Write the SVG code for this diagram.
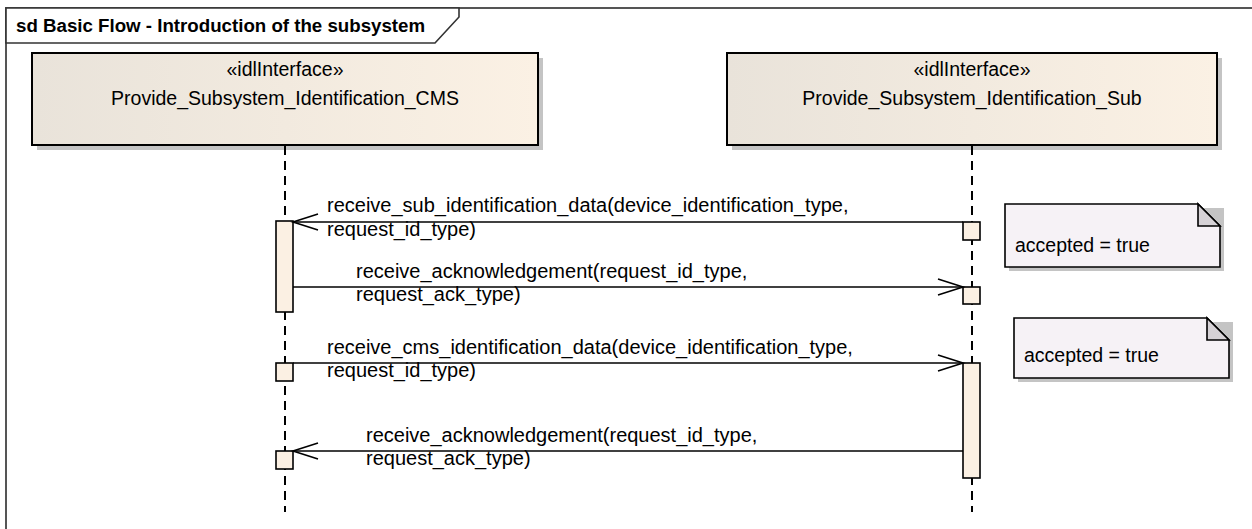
<svg xmlns="http://www.w3.org/2000/svg" width="1252" height="529" viewBox="0 0 1252 529">
  <style>
    text { font-family: "Liberation Sans", Arial, sans-serif; font-size: 19.5px; fill: #000; }
    .title { font-weight: bold; font-size: 18.7px; }
    .lbl { font-size: 20px; }
    .hdr { fill: url(#hdrGrad); stroke: #000; stroke-width: 2; }
    .shadow { fill: #c4c4c4; stroke: none; }
    .life { stroke: #000; stroke-width: 2; stroke-dasharray: 9 6; fill: none; }
    .act { fill: #fbf0e3; stroke: #000; stroke-width: 1.6; }
    .msg { stroke: #000; stroke-width: 1.6; fill: none; }
    .head { stroke: #000; stroke-width: 1.6; fill: none; }
    .note { fill: #f6f2f6; stroke: #000; stroke-width: 1.6; }
    .fold { fill: #d6d2d6; stroke: #000; stroke-width: 1.6; stroke-linejoin: miter; }
    .lblbg { fill: #fff; stroke: none; }
  </style>
  <defs>
    <linearGradient id="hdrGrad" x1="0" y1="0" x2="1" y2="0">
      <stop offset="0" stop-color="#e9e3da"/>
      <stop offset="1" stop-color="#fbf1e4"/>
    </linearGradient>
  </defs>
  <rect x="0" y="0" width="1252" height="529" fill="#fff"/>

  <g id="frame">
    <path d="M6,540 L6,8 L1260,8" fill="none" stroke="#555" stroke-width="2"/>
    <path d="M6,8 L459,8 L459,17 L435,43 L6,43 Z" fill="#fff" stroke="#333" stroke-width="1.6"/>
    <text class="title" x="16" y="32">sd Basic Flow  - Introduction of the subsystem</text>
  </g>

  <g id="lifeline-cms">
    <rect class="shadow" x="37" y="58" width="506" height="92"/>
    <rect class="hdr" x="32" y="53" width="506" height="92"/>
    <text x="285" y="76" text-anchor="middle">«idlInterface»</text>
    <text x="285" y="105" text-anchor="middle">Provide_Subsystem_Identification_CMS</text>
    <line class="life" x1="285" y1="146" x2="285" y2="512"/>
  </g>

  <g id="lifeline-sub">
    <rect class="shadow" x="732" y="58" width="490" height="92"/>
    <rect class="hdr" x="727" y="53" width="490" height="92"/>
    <text x="972" y="76" text-anchor="middle">«idlInterface»</text>
    <text x="972" y="105" text-anchor="middle">Provide_Subsystem_Identification_Sub</text>
    <line class="life" x1="972" y1="146" x2="972" y2="512"/>
  </g>

  <g id="activations">
    <rect class="act" x="276" y="221" width="17" height="91"/>
    <rect class="act" x="963" y="222" width="17" height="18"/>
    <rect class="act" x="963" y="287" width="17" height="17"/>
    <rect class="act" x="276" y="363" width="17" height="18"/>
    <rect class="act" x="963" y="363" width="17" height="115"/>
    <rect class="act" x="276" y="451" width="17" height="18"/>
  </g>

  <g id="connectors">
    <g id="msg1">
      <line class="msg" x1="963" y1="222" x2="293" y2="222"/>
      <path class="head" d="M318,214 L293,222 L318,230"/>
      <rect class="lblbg" x="326" y="223" width="151" height="20"/>
      <text class="lbl" x="327" y="212">receive_sub_identification_data(device_identification_type,</text>
      <text class="lbl" x="327" y="236">request_id_type)</text>
    </g>
    <g id="msg2">
      <line class="msg" x1="293" y1="287" x2="963" y2="287"/>
      <path class="head" d="M938,279 L963,287 L938,295"/>
      <rect class="lblbg" x="355" y="288" width="164" height="20"/>
      <text class="lbl" x="356" y="278">receive_acknowledgement(request_id_type,</text>
      <text class="lbl" x="356" y="301">request_ack_type)</text>
    </g>
    <g id="msg3">
      <line class="msg" x1="293" y1="363" x2="963" y2="363"/>
      <path class="head" d="M938,355 L963,363 L938,371"/>
      <rect class="lblbg" x="326" y="364" width="151" height="20"/>
      <text class="lbl" x="327" y="354">receive_cms_identification_data(device_identification_type,</text>
      <text class="lbl" x="327" y="377">request_id_type)</text>
    </g>
    <g id="msg4">
      <line class="msg" x1="963" y1="451" x2="293" y2="451"/>
      <path class="head" d="M318,443 L293,451 L318,459"/>
      <rect class="lblbg" x="365" y="452" width="164" height="20"/>
      <text class="lbl" x="366" y="442">receive_acknowledgement(request_id_type,</text>
      <text class="lbl" x="366" y="465">request_ack_type)</text>
    </g>
  </g>

  <g id="note1">
    <path class="shadow" d="M1009,208 L1224,208 L1224,271 L1009,271 Z"/>
    <path class="note" d="M1005,204 L1198,204 L1220,226 L1220,267 L1005,267 Z"/>
    <path class="fold" d="M1198,204 L1198,226 L1220,226 Z"/>
    <text x="1015" y="252">accepted = true</text>
  </g>

  <g id="note2">
    <path class="shadow" d="M1018,322 L1233,322 L1233,382 L1018,382 Z"/>
    <path class="note" d="M1014,318 L1207,318 L1229,340 L1229,378 L1014,378 Z"/>
    <path class="fold" d="M1207,318 L1207,340 L1229,340 Z"/>
    <text x="1024" y="362">accepted = true</text>
  </g>
</svg>
